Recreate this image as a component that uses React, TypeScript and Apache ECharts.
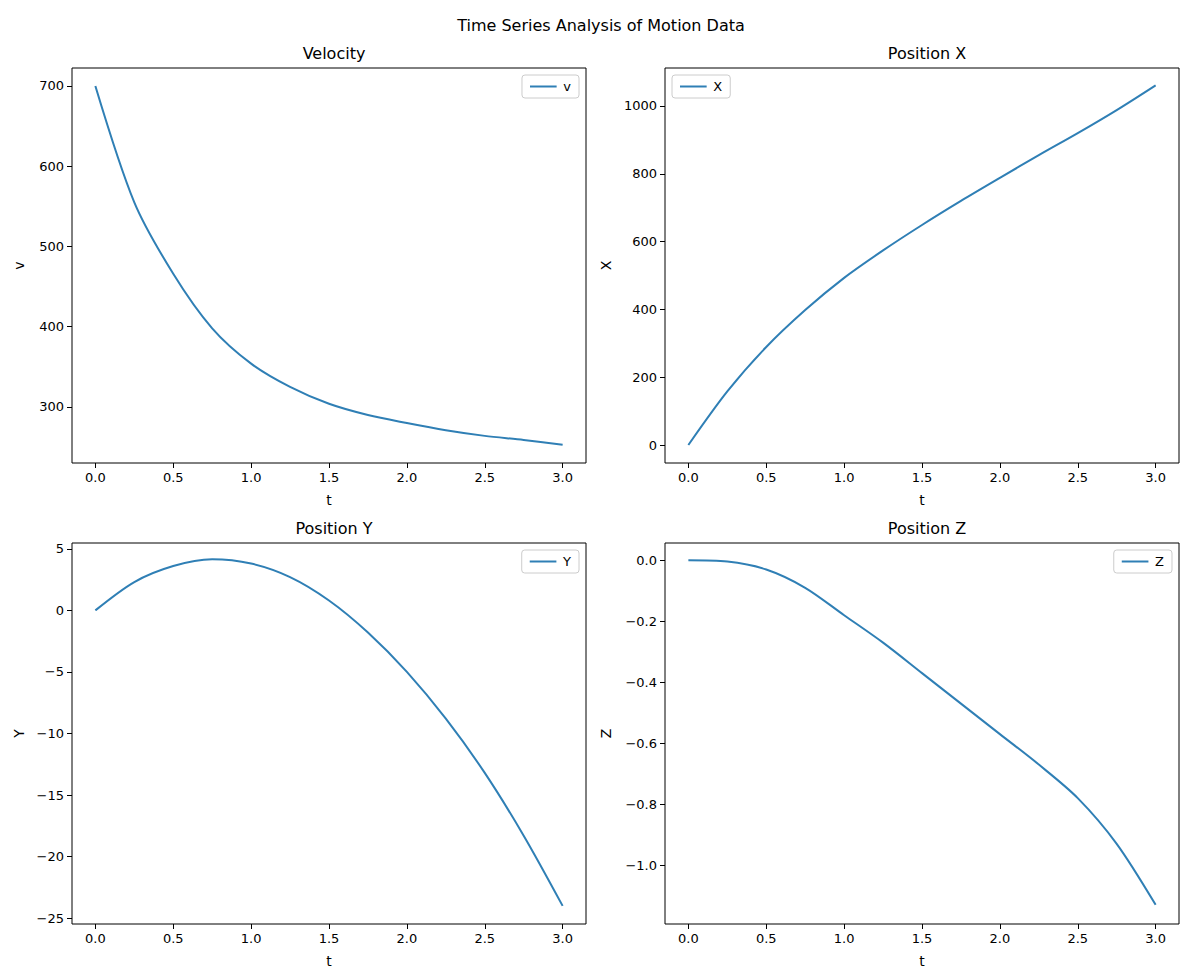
import React, { useEffect, useRef } from 'react';
import * as echarts from 'echarts';

const t = [0, 0.25, 0.5, 0.75, 1.0, 1.25, 1.5, 1.75, 2.0, 2.25, 2.5, 2.75, 3.0];
const vData = [700, 555, 466, 398, 354, 325, 304, 290, 280, 271, 264, 259, 253];
const xData = [0, 158, 289, 398, 493, 574, 649, 720, 788, 855, 920, 988, 1061];
const yData = [0, 2.3, 3.6, 4.15, 3.8, 2.7, 0.8, -1.8, -5.0, -8.8, -13.2, -18.3, -24];
const zData = [0, -0.004, -0.03, -0.09, -0.18, -0.27, -0.37, -0.47, -0.57, -0.67, -0.78, -0.93, -1.13];

const xTicks = [0, 0.5, 1.0, 1.5, 2.0, 2.5, 3.0];
const vTicks = [300, 400, 500, 600, 700];
const posXTicks = [0, 200, 400, 600, 800, 1000];
const posYTicks = [-25, -20, -15, -10, -5, 0, 5];
const posZTicks = [-1.0, -0.8, -0.6, -0.4, -0.2, 0.0];

const panels = [
  { title: 'Velocity', name: 'v', yLabel: 'v', data: vData, ticks: vTicks, min: 230.2, max: 722.4, dec: 0, left: 72, top: 68, legendLeft: false },
  { title: 'Position X', name: 'X', yLabel: 'X', data: xData, ticks: posXTicks, min: -53, max: 1112, dec: 0, left: 665, top: 68, legendLeft: true },
  { title: 'Position Y', name: 'Y', yLabel: 'Y', data: yData, ticks: posYTicks, min: -25.47, max: 5.47, dec: 0, left: 72, top: 543, legendLeft: false },
  { title: 'Position Z', name: 'Z', yLabel: 'Z', data: zData, ticks: posZTicks, min: -1.193, max: 0.057, dec: 1, left: 665, top: 543, legendLeft: false },
];

const W = 514;
const H = 395;
const color = '#2f7fb5';
const font = 'DejaVu Sans';

const fmt = (v: number, dec: number) => {
  const s = v.toFixed(dec);
  return s.startsWith('-') ? '\u2212' + s.slice(1) : s;
};

const App = () => {
  const chartRef = useRef(null);

  useEffect(() => {
    if (!chartRef.current) return;
    const chart = echarts.init(chartRef.current, null, { renderer: 'svg' });

    const option = {
      animation: false,
      backgroundColor: '#fff',
      textStyle: { fontFamily: font },
      title: [
        { text: 'Time Series Analysis of Motion Data', left: 596, top: 12, textAlign: 'center',
          textStyle: { fontFamily: font, fontSize: 16, fontWeight: 'normal', color: '#000' } },
        ...panels.map((p) => ({
          text: p.title, left: p.left + W / 2, top: p.top - 28, textAlign: 'center',
          textStyle: { fontFamily: font, fontSize: 16, fontWeight: 'normal', color: '#000' },
        })),
      ],
      grid: panels.map((p) => ({
        left: p.left, top: p.top, width: W, height: H, show: true,
        borderColor: '#000', borderWidth: 1, backgroundColor: 'transparent',
      })),
      legend: panels.map((p) => ({
        data: [p.name],
        ...(p.legendLeft ? { left: p.left + 7 } : { right: 1189 - (p.left + W) + 7 }),
        top: p.top + 7,
        orient: 'vertical',
        icon: 'path://M0,0 L40,0 L40,3 L0,3 Z',
        itemWidth: 30, itemHeight: 2,
        borderColor: '#ccc', borderWidth: 1, borderRadius: 3, padding: [5, 8],
        textStyle: { fontFamily: font, fontSize: 13, color: '#000' },
      })),
      xAxis: panels.map((p, i) => ({
        type: 'value', gridIndex: i, min: -0.15, max: 3.15,
        name: 't', nameLocation: 'middle', nameGap: 30,
        nameTextStyle: { fontFamily: font, fontSize: 14, color: '#000' },
        axisLine: { show: false, onZero: false }, splitLine: { show: false },
        axisTick: { show: true, inside: false, length: 5, customValues: xTicks, lineStyle: { color: '#000' } },
        axisLabel: { customValues: xTicks, formatter: (v: number) => v.toFixed(1),
          fontFamily: font, fontSize: 13, color: '#000', margin: 8 },
      })),
      yAxis: panels.map((p, i) => ({
        type: 'value', gridIndex: i, min: p.min, max: p.max,
        name: p.yLabel, nameLocation: 'middle', nameGap: p.dec ? 52 : (i === 1 ? 52 : 46),
        nameTextStyle: { fontFamily: font, fontSize: 14, color: '#000' },
        axisLine: { show: false, onZero: false }, splitLine: { show: false },
        axisTick: { show: true, inside: false, length: 5, customValues: p.ticks, lineStyle: { color: '#000' } },
        axisLabel: { customValues: p.ticks, formatter: (v: number) => fmt(v, p.dec),
          fontFamily: font, fontSize: 13, color: '#000', margin: 8 },
      })),
      series: panels.map((p, i) => ({
        type: 'line', name: p.name, xAxisIndex: i, yAxisIndex: i,
        data: t.map((x, j) => [x, p.data[j]]),
        smooth: 0.3, showSymbol: false, color,
        lineStyle: { width: 2, color },
      })),
    };

    chart.setOption(option);
    return () => chart.dispose();
  }, []);

  return <div ref={chartRef} style={{ position: 'absolute', left: 0, top: 0, width: 1189, height: 969 }} />;
};

export default App;
